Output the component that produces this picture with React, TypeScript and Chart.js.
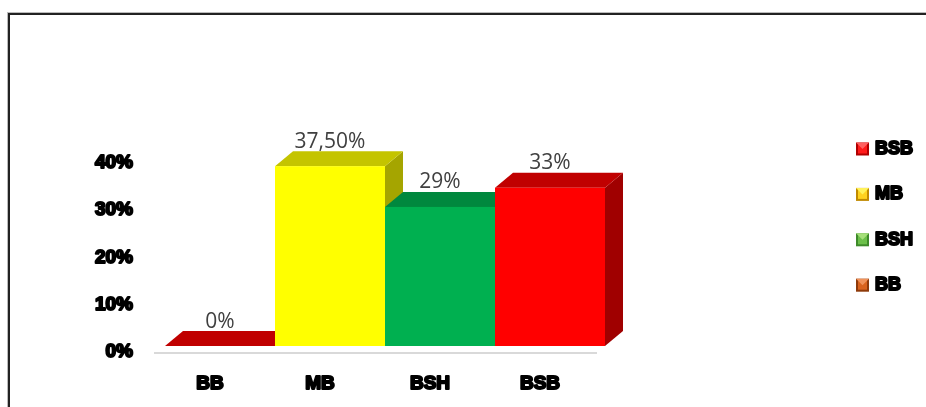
import React, { useEffect, useRef } from "react";
import { Chart, registerables } from "chart.js";
Chart.register(...registerables);

const categories = ["BB", "MB", "BSH", "BSB"];
const values = [0, 37.5, 29, 33];
const valueLabels = ["0%", "37,50%", "29%", "33%"];
const yTicks = [0, 10, 20, 30, 40];
const frontColors = ["#FF0000", "#FFFF00", "#00B050", "#FF0000"];
const topColors = ["#C00000", "#C4C400", "#00883E", "#C00000"];
const sideColors = ["#A00000", "#A5A500", "#007A37", "#A00000"];
const legendLabels = ["BSB", "MB", "BSH", "BB"];
const legendColors = ["#FF1A1A", "#FFD21F", "#6CC04A", "#D9631E"];
const legendLight = ["#FF6060", "#FFF25A", "#A6E07A", "#F0925A"];
const legendDark = ["#B00000", "#C08A00", "#3E8A2A", "#8E3A0A"];

const AXIS_FONT = { family: "'Liberation Sans', Arial, sans-serif", size: 19, weight: "bold" as const };

const bars3d = {
  id: "bars3d",
  beforeDraw(chart: any) {
    const ctx = chart.ctx as CanvasRenderingContext2D;
    ctx.lineJoin = "round";
    ctx.miterLimit = 2;
  },
  afterDatasetsDraw(chart: any) {
    const ctx = chart.ctx as CanvasRenderingContext2D;
    const meta = chart.getDatasetMeta(0);
    const xs = chart.scales.x;
    const ys = chart.scales.y;
    const DX = 18, DY = 15, SX = 10, SY = 6, PERSP = 1.015;
    const floorY = ys.getPixelForValue(0);
    ctx.save();
    ctx.strokeStyle = "#D9D9D9";
    ctx.lineWidth = 2;
    ctx.beginPath();
    ctx.moveTo(xs.left - 1, floorY + 1);
    ctx.lineTo(xs.right + 2, floorY + 1);
    ctx.stroke();

    const poly = (pts: number[][], color: string) => {
      ctx.beginPath();
      ctx.moveTo(pts[0][0], pts[0][1]);
      for (let k = 1; k < pts.length; k++) ctx.lineTo(pts[k][0], pts[k][1]);
      ctx.closePath();
      ctx.fillStyle = color;
      ctx.fill();
    };
    const geo: any[] = [];
    meta.data.forEach((el: any, i: number) => {
      const p = el.getProps(["x", "y", "base", "width"], true);
      const h = (p.base - p.y) * PERSP;
      const l = p.x - p.width / 2 + SX;
      const r = p.x + p.width / 2 + SX;
      const bot = p.base - SY;
      const top = bot - h;
      poly([[r, bot], [r + DX, bot - DY], [r + DX, top - DY], [r, top]], sideColors[i]);
      poly([[l, top], [l + DX, top - DY], [r + DX, top - DY], [r, top]], topColors[i]);
      if (h > 0) {
        ctx.fillStyle = frontColors[i];
        ctx.fillRect(l, top, r - l, bot - top);
      }
      geo.push({ cx: (l + r) / 2, backTop: top - DY });
    });
    ctx.fillStyle = "#404040";
    ctx.font = "21px 'Open Sans', sans-serif";
    ctx.textAlign = "center";
    ctx.textBaseline = "alphabetic";
    geo.forEach((g, i) => {
      ctx.fillText(valueLabels[i], g.cx, g.backTop - 3.5);
    });
    ctx.restore();
  },
  afterDraw(chart: any) {
    const ctx = chart.ctx as CanvasRenderingContext2D;
    ctx.save();
    const x0 = 856, y0 = 149, step = 45.4, s = 13;
    ctx.font = "bold 18px 'Liberation Sans', Arial, sans-serif";
    ctx.textBaseline = "middle";
    ctx.textAlign = "left";
    ctx.lineJoin = "round";
    legendLabels.forEach((lab, i) => {
      const cy = y0 + i * step;
      const mx = x0, my = cy - s / 2;
      ctx.fillStyle = legendDark[i];
      ctx.fillRect(mx, my, s, s);
      ctx.fillStyle = legendColors[i];
      ctx.fillRect(mx + 2, my + 2, s - 4, s - 4);
      ctx.beginPath();
      ctx.moveTo(mx, my);
      ctx.lineTo(mx + s, my);
      ctx.lineTo(mx + s / 2, my + s / 2);
      ctx.closePath();
      ctx.fillStyle = legendLight[i];
      ctx.fill();
      ctx.lineWidth = 2;
      ctx.strokeStyle = "#000";
      ctx.strokeText(lab, 875, cy);
      ctx.fillStyle = "#000";
      ctx.fillText(lab, 875, cy);
    });
    ctx.restore();
  },
};

export default function App() {
  const ref = useRef<HTMLCanvasElement | null>(null);
  useEffect(() => {
    document.body.style.margin = "0";
    document.documentElement.style.overflow = "hidden";
    const canvas = ref.current!;
    const chart = new Chart(canvas, {
      type: "bar",
      data: {
        labels: categories,
        datasets: [
          {
            data: values,
            backgroundColor: "rgba(0,0,0,0)",
            borderWidth: 0,
            barPercentage: 1,
            categoryPercentage: 1,
          },
        ],
      },
      options: {
        animation: false,
        responsive: false,
        maintainAspectRatio: false,
        devicePixelRatio: 1,
        layout: { padding: { top: 163, right: 331, left: 0, bottom: 0 } },
        plugins: { legend: { display: false }, tooltip: { enabled: false } },
        scales: {
          x: {
            grid: { display: false, drawTicks: false },
            border: { display: false },
            ticks: {
              font: AXIS_FONT,
              color: "#000",
              textStrokeColor: "#000",
              textStrokeWidth: 2,
              padding: 20,
              maxRotation: 0,
            },
            afterFit: (s: any) => {
              s.height = 55;
            },
          },
          y: {
            min: 0,
            max: 40,
            grid: { display: false, drawTicks: false },
            border: { display: false },
            afterBuildTicks: (s: any) => {
              s.ticks = yTicks.map((v) => ({ value: v }));
            },
            ticks: {
              font: AXIS_FONT,
              color: "#000",
              textStrokeColor: "#000",
              textStrokeWidth: 2,
              padding: 22,
              callback: (v: any) => v + "%",
            },
            afterFit: (s: any) => {
              s.width = 155;
            },
          },
        },
      } as any,
      plugins: [bars3d],
    });
    return () => chart.destroy();
  }, []);
  return (
    <div style={{ position: "relative", width: 926, height: 407, overflow: "hidden", background: "#fff" }}>
      <div
        style={{
          position: "absolute",
          left: 8,
          top: 13,
          width: 1000,
          height: 500,
          borderTop: "2px solid #222",
          borderLeft: "2px solid #222",
          boxShadow: "-1px -1px 0 #bbb",
        }}
      />
      <canvas ref={ref} width={926} height={407} style={{ position: "absolute", left: 0, top: 0 }} />
    </div>
  );
}
